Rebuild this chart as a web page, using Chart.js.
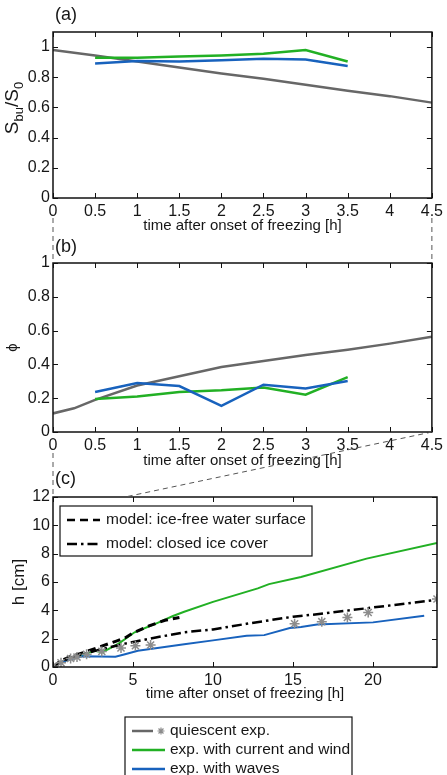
<!DOCTYPE html>
<html>
<head>
<meta charset="utf-8">
<script src="https://cdn.jsdelivr.net/npm/chart.js@4.4.1/dist/chart.umd.min.js"></script>
<style>
  html, body { margin: 0; padding: 0; background: #fff; }
  body { width: 447px; height: 775px; position: relative; overflow: hidden; }
  .panel { position: absolute; left: 0; width: 447px; }
  #boxA { top: 0; height: 235px; }
  #boxB { top: 235px; height: 235px; }
  #boxC { top: 470px; height: 305px; }
  #links { position: absolute; left: 0; top: 0; width: 447px; height: 775px; pointer-events: none; }
</style>
</head>
<body>
<div class="panel" id="boxA"><canvas id="chartA"></canvas></div>
<div class="panel" id="boxB"><canvas id="chartB"></canvas></div>
<div class="panel" id="boxC"><canvas id="chartC"></canvas></div>
<canvas id="links" width="447" height="775"></canvas>
<script>
// (a) S_bu/S_0 over the first hours
const hoursQuiet = [0, 0.5, 1, 1.5, 2, 2.5, 3, 3.5, 4, 4.5];
const hoursExp = [0.5, 1, 1.5, 2, 2.5, 3, 3.5];
const salinityQuiet = [0.98, 0.945, 0.905, 0.865, 0.825, 0.79, 0.75, 0.71, 0.675, 0.632];
const salinityCurrent = [0.93, 0.93, 0.938, 0.945, 0.956, 0.98, 0.905];
const salinityWaves = [0.892, 0.908, 0.905, 0.912, 0.922, 0.917, 0.875];

// (b) phi
const hoursQuietPhi = [0, 0.25, 0.5, 1, 1.5, 2, 2.5, 3, 3.5, 4, 4.5];
const phiQuiet = [0.11, 0.14, 0.19, 0.275, 0.33, 0.385, 0.42, 0.455, 0.487, 0.523, 0.563];
const phiCurrent = [0.195, 0.21, 0.237, 0.247, 0.263, 0.221, 0.325];
const phiWaves = [0.237, 0.29, 0.272, 0.154, 0.28, 0.257, 0.302];

// (c) ice thickness h [cm]
const hQuietT = [0, 0.5, 1.1, 1.5, 2.1, 3.05, 4.25, 5.15, 6.1, 15.1, 16.8, 18.4, 19.7, 24];
const hQuiet = [0.05, 0.3, 0.6, 0.7, 0.9, 1.1, 1.35, 1.5, 1.55, 3.05, 3.2, 3.5, 3.85, 4.8];
const hCurrentT = [0, 0.5, 1.4, 2.6, 3.1, 4.1, 5.1, 6.4, 7.5, 8.2, 10, 12.8, 13.5, 15.5, 19.6, 24];
const hCurrent = [0, 0.35, 0.7, 1.15, 1.05, 1.65, 2.45, 3.05, 3.6, 3.9, 4.6, 5.55, 5.85, 6.35, 7.65, 8.75];
const hWavesT = [0, 0.5, 1.8, 3.9, 4.5, 5.3, 8.2, 10, 12.1, 13.2, 14.8, 15.5, 16.5, 20, 23.2];
const hWaves = [0, 0.35, 0.75, 0.72, 0.9, 1.15, 1.6, 1.88, 2.2, 2.25, 2.75, 2.82, 3.0, 3.15, 3.62];
const hFreeT = [0, 0.5, 1, 2, 3, 4, 4.5, 5, 6, 7, 7.9];
const hFree = [0, 0.45, 0.7, 1.05, 1.45, 1.85, 2.05, 2.4, 2.9, 3.3, 3.5];
const hClosedT = [0, 0.5, 1, 2, 3, 4.5, 6.5, 8.2, 10, 12.1, 15, 16.5, 20, 24];
const hClosed = [0, 0.35, 0.6, 0.95, 1.25, 1.65, 2.1, 2.45, 2.65, 3.05, 3.55, 3.72, 4.2, 4.75];

const xTitle = "time after onset of freezing [h]";
const legendModel = ["model: ice-free water surface", "model: closed ice cover"];
const legendExp = ["quiescent exp.", "exp. with current and wind", "exp. with waves"];

const GRAY = "#676767", STAR = "#8c8c8c", GREEN = "#22b024", BLUE = "#1862bd";
const FONT = "'Liberation Sans', Arial, sans-serif";

Chart.defaults.font.family = FONT;
Chart.defaults.font.size = 16;
Chart.defaults.color = "#161616";
Chart.defaults.animation = false;
Chart.defaults.devicePixelRatio = 1;

const pts = (xs, ys) => xs.map((x, i) => ({ x: x, y: ys[i] }));
const fmt = (v) => String(Math.round(v * 100) / 100);

// matlab-ish box with inward ticks on all four sides + panel label
const matlabAxes = {
  id: "matlabAxes",
  afterDraw(chart, args, opts) {
    const { ctx, chartArea: a, scales } = chart;
    ctx.save();
    ctx.strokeStyle = "#111";
    ctx.lineWidth = 1.5;
    ctx.strokeRect(a.left, a.top, a.right - a.left, a.bottom - a.top);
    ctx.lineWidth = 1;
    ctx.beginPath();
    scales.x.ticks.forEach((t) => {
      const p = Math.round(scales.x.getPixelForValue(t.value)) + 0.5;
      ctx.moveTo(p, a.bottom); ctx.lineTo(p, a.bottom - 5);
      ctx.moveTo(p, a.top); ctx.lineTo(p, a.top + 5);
    });
    scales.y.ticks.forEach((t) => {
      const p = Math.round(scales.y.getPixelForValue(t.value)) + 0.5;
      ctx.moveTo(a.left, p); ctx.lineTo(a.left + 5, p);
      ctx.moveTo(a.right, p); ctx.lineTo(a.right - 5, p);
    });
    ctx.stroke();
    ctx.fillStyle = "#161616";
    ctx.font = "18px " + FONT;
    ctx.textBaseline = "middle";
    ctx.fillText(opts.label, 55, opts.labelY);
    if (opts.salinity) {
      // S_bu/S_0 with subscripts, rotated
      ctx.translate(13, (a.top + a.bottom) / 2 - 7);
      ctx.rotate(-Math.PI / 2);
      const parts = [["S", 19, 0], ["bu", 13, 6], ["/S", 19, 0], ["0", 13, 6]];
      let w = 0;
      parts.forEach((p) => { ctx.font = p[1] + "px " + FONT; w += ctx.measureText(p[0]).width; });
      let x = -w / 2;
      parts.forEach((p) => {
        ctx.font = p[1] + "px " + FONT;
        ctx.fillText(p[0], x, p[2]);
        x += ctx.measureText(p[0]).width;
      });
    }
    ctx.restore();
  }
};

// legends of panel (c)
const panelLegends = {
  id: "panelLegends",
  afterDraw(chart) {
    const { ctx, chartArea: a } = chart;
    ctx.save();
    // model legend inside axes
    const bx = a.left + 7, by = a.top + 9, bw = 252, bh = 50;
    ctx.fillStyle = "#fff";
    ctx.fillRect(bx, by, bw, bh);
    ctx.strokeStyle = "#111";
    ctx.lineWidth = 1.2;
    ctx.strokeRect(bx, by, bw, bh);
    ctx.font = "15.5px " + FONT;
    ctx.fillStyle = "#161616";
    ctx.textBaseline = "middle";
    const dashes = [[8, 5], [10, 4, 2.5, 4]];
    legendModel.forEach((txt, i) => {
      const y = by + 14 + i * 24;
      ctx.setLineDash(dashes[i]);
      ctx.lineWidth = 2.5;
      ctx.strokeStyle = "#000";
      ctx.beginPath(); ctx.moveTo(bx + 7, y); ctx.lineTo(bx + 40, y); ctx.stroke();
      ctx.setLineDash([]);
      ctx.fillText(txt, bx + 46, y);
    });

    // experiment legend below the axes
    const lx = 125, ly = a.bottom + 50;
    ctx.lineWidth = 1.2;
    ctx.strokeStyle = "#111";
    ctx.strokeRect(lx, ly, 227, 80);
    ctx.font = "15.5px " + FONT;
    const cols = [GRAY, GREEN, BLUE];
    legendExp.forEach((txt, i) => {
      const y = ly + 14 + i * 19;
      ctx.strokeStyle = cols[i];
      ctx.lineWidth = 2.5;
      ctx.beginPath();
      ctx.moveTo(lx + 7, y);
      ctx.lineTo(lx + (i === 0 ? 28 : 40), y);
      ctx.stroke();
      if (i === 0) {
        ctx.strokeStyle = STAR;
        ctx.lineWidth = 1.2;
        const cx = lx + 36, r = 3.5;
        ctx.beginPath();
        for (let k = 0; k < 4; k++) {
          const ang = k * Math.PI / 4;
          ctx.moveTo(cx - r * Math.cos(ang), y - r * Math.sin(ang));
          ctx.lineTo(cx + r * Math.cos(ang), y + r * Math.sin(ang));
        }
        ctx.stroke();
      }
      ctx.fillStyle = "#161616";
      ctx.fillText(txt, lx + 45, y);
    });
    ctx.restore();
  }
};

function axes(cfg) {
  return {
    x: {
      type: "linear", min: cfg.xMin, max: cfg.xMax,
      grid: { display: false, drawTicks: false }, border: { display: false },
      ticks: { stepSize: cfg.xStep, includeBounds: false, padding: 4, maxRotation: 0, autoSkip: false, callback: fmt },
      title: { display: true, text: xTitle, padding: 0, font: { size: 15 } },
      afterFit(s) { s.height = cfg.xHeight; }
    },
    y: {
      min: cfg.yMin, max: cfg.yMax,
      grid: { display: false, drawTicks: false }, border: { display: false },
      ticks: { stepSize: cfg.yStep, includeBounds: false, padding: 3, callback: fmt },
      title: cfg.yTitle ? { display: true, text: cfg.yTitle, padding: { top: cfg.yTitlePad, bottom: 0 }, font: { size: cfg.yTitleSize } } : { display: false },
      afterFit(s) { s.width = 53; }
    }
  };
}

function lineSet(data, color, width, dash) {
  return { data: data, borderColor: color, backgroundColor: color, borderWidth: width,
           borderDash: dash || [], pointRadius: 0, tension: 0, fill: false };
}

const chartA = new Chart(document.getElementById("chartA"), {
  type: "line",
  data: {
    datasets: [
      lineSet(pts(hoursExp, salinityWaves), BLUE, 2.5),
      lineSet(pts(hoursExp, salinityCurrent), GREEN, 2.5),
      lineSet(pts(hoursQuiet, salinityQuiet), GRAY, 2.5)
    ]
  },
  options: {
    responsive: true, maintainAspectRatio: false,
    layout: { padding: { top: 32, right: 10, left: 0, bottom: 0 } },
    scales: axes({ xMin: 0, xMax: 4.5, xStep: 0.5, xHeight: 37, yMin: 0, yMax: 1.1, yStep: 0.2 }),
    plugins: { legend: { display: false }, tooltip: { enabled: false },
               matlabAxes: { label: "(a)", labelY: 15, salinity: true } }
  },
  plugins: [matlabAxes]
});

const chartB = new Chart(document.getElementById("chartB"), {
  type: "line",
  data: {
    datasets: [
      lineSet(pts(hoursExp, phiWaves), BLUE, 2.5),
      lineSet(pts(hoursExp, phiCurrent), GREEN, 2.5),
      lineSet(pts(hoursQuietPhi, phiQuiet), GRAY, 2.5)
    ]
  },
  options: {
    responsive: true, maintainAspectRatio: false,
    layout: { padding: { top: 28, right: 10, left: 0, bottom: 0 } },
    scales: axes({ xMin: 0, xMax: 4.5, xStep: 0.5, xHeight: 38, yMin: 0, yMax: 1, yStep: 0.2,
                   yTitle: "\u03d5", yTitlePad: 4, yTitleSize: 15 }),
    plugins: { legend: { display: false }, tooltip: { enabled: false },
               matlabAxes: { label: "(b)", labelY: 12 } }
  },
  plugins: [matlabAxes]
});

const chartC = new Chart(document.getElementById("chartC"), {
  type: "line",
  data: {
    datasets: [
      { data: pts(hQuietT, hQuiet), showLine: false, pointStyle: "star", pointRadius: 5,
        borderColor: STAR, backgroundColor: STAR, pointBorderWidth: 1.5 },
      lineSet(pts(hFreeT, hFree), "#000", 3, [8, 5]),
      lineSet(pts(hClosedT, hClosed), "#000", 2.5, [10, 4, 2.5, 4]),
      lineSet(pts(hWavesT, hWaves), BLUE, 2),
      lineSet(pts(hCurrentT, hCurrent), GREEN, 2)
    ]
  },
  options: {
    responsive: true, maintainAspectRatio: false,
    layout: { padding: { top: 27, right: 10, left: 0, bottom: 72 } },
    scales: axes({ xMin: 0, xMax: 24, xStep: 5, xHeight: 36, yMin: 0, yMax: 12, yStep: 2,
                   yTitle: "h [cm]", yTitlePad: 9, yTitleSize: 17 }),
    plugins: { legend: { display: false }, tooltip: { enabled: false },
               matlabAxes: { label: "(c)", labelY: 9 } }
  },
  plugins: [matlabAxes, panelLegends]
});

// dashed zoom connectors between the panels
function drawLinks() {
  const ctx = document.getElementById("links").getContext("2d");
  const top = (c) => c.canvas.parentNode.offsetTop;
  const px = (c, v) => c.scales.x.getPixelForValue(v);
  const aBot = top(chartA) + chartA.chartArea.bottom;
  const bTop = top(chartB) + chartB.chartArea.top;
  const bBot = top(chartB) + chartB.chartArea.bottom;
  const cTop = top(chartC) + chartC.chartArea.top;
  ctx.strokeStyle = "#555";
  ctx.lineWidth = 1;
  ctx.setLineDash([5, 4]);
  ctx.beginPath();
  ctx.moveTo(px(chartA, 0), aBot + 20); ctx.lineTo(px(chartB, 0), bTop);
  ctx.moveTo(px(chartA, 4.5), aBot + 20); ctx.lineTo(px(chartB, 4.5), bTop);
  ctx.moveTo(px(chartB, 0), bBot + 21); ctx.lineTo(px(chartC, 0), cTop);
  ctx.moveTo(px(chartB, 4.5), bBot); ctx.lineTo(px(chartC, 4.5), cTop);
  ctx.stroke();
}
drawLinks();
</script>
</body>
</html>
